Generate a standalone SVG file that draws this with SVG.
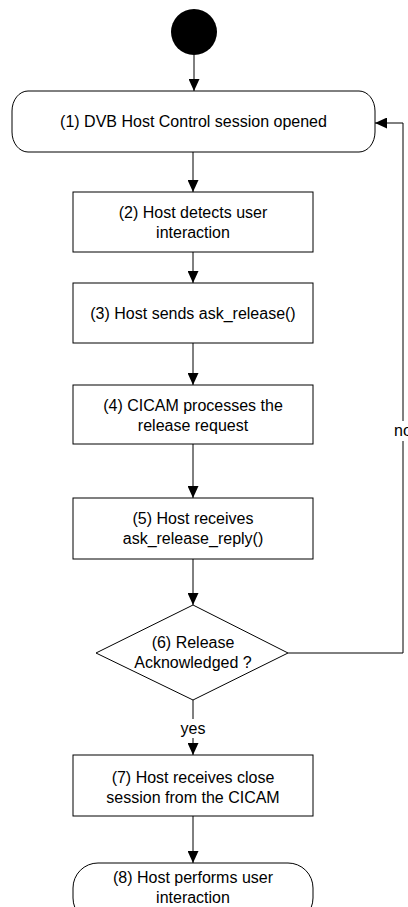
<svg xmlns="http://www.w3.org/2000/svg" width="408" height="907" viewBox="0 0 408 907">
  <style>
    .box { fill: #ffffff; stroke: #000000; stroke-width: 1; }
    .lbl { font-family: "Liberation Sans", Arial, sans-serif; font-size: 16px; fill: #000000; text-anchor: middle; }
    .conn { fill: none; stroke: #000000; stroke-width: 1; }
    .tag { fill: #ffffff; stroke: none; }
  </style>
  <defs>
    <marker id="arr" markerUnits="userSpaceOnUse" markerWidth="12" markerHeight="11" refX="12" refY="5.5" orient="auto">
      <path d="M0,0 L12,5.5 L0,11 z" fill="#000000"/>
    </marker>
  </defs>
  <rect x="0" y="0" width="408" height="907" fill="#ffffff"/>

  <g id="connectors">
    <line class="conn" x1="194" y1="55" x2="194" y2="91" marker-end="url(#arr)"/>
    <line class="conn" x1="193" y1="152" x2="193" y2="192" marker-end="url(#arr)"/>
    <line class="conn" x1="193" y1="252" x2="193" y2="283" marker-end="url(#arr)"/>
    <line class="conn" x1="193" y1="343" x2="193" y2="385" marker-end="url(#arr)"/>
    <line class="conn" x1="193" y1="444" x2="193" y2="498" marker-end="url(#arr)"/>
    <line class="conn" x1="193" y1="559" x2="193" y2="605" marker-end="url(#arr)"/>
    <line class="conn" x1="193" y1="700" x2="193" y2="755" marker-end="url(#arr)"/>
    <line class="conn" x1="193" y1="816" x2="193" y2="863" marker-end="url(#arr)"/>
    <polyline class="conn" points="288,653 403,653 403,123 375,123" marker-end="url(#arr)"/>
    <rect class="tag" x="181" y="719" width="24" height="19"/>
    <text class="lbl" x="193" y="734">yes</text>
    <rect class="tag" x="393" y="421" width="15" height="20"/>
    <text class="lbl" x="403" y="436">no</text>
  </g>

  <g id="start">
    <circle cx="194" cy="32" r="23" fill="#000000"/>
  </g>

  <g id="n1">
    <rect class="box" x="12" y="91" width="363" height="61" rx="16" ry="20"/>
    <text class="lbl" x="193.5" y="127">(1) DVB Host Control session opened</text>
  </g>

  <g id="n2">
    <rect class="box" x="73" y="192" width="240" height="60"/>
    <text class="lbl" x="193" y="218">(2) Host detects user</text>
    <text class="lbl" x="193" y="238">interaction</text>
  </g>

  <g id="n3">
    <rect class="box" x="73" y="283" width="240" height="60"/>
    <text class="lbl" x="193" y="319">(3) Host sends ask_release()</text>
  </g>

  <g id="n4">
    <rect class="box" x="73" y="385" width="240" height="59"/>
    <text class="lbl" x="193" y="411">(4) CICAM processes the</text>
    <text class="lbl" x="193" y="431">release request</text>
  </g>

  <g id="n5">
    <rect class="box" x="73" y="498" width="240" height="61"/>
    <text class="lbl" x="193" y="524">(5) Host receives</text>
    <text class="lbl" x="193" y="544">ask_release_reply()</text>
  </g>

  <g id="n6">
    <polygon class="box" points="193,605 288,653 193,700 96,653"/>
    <text class="lbl" x="193" y="648">(6) Release</text>
    <text class="lbl" x="193" y="668">Acknowledged ?</text>
  </g>

  <g id="n7">
    <rect class="box" x="73" y="755" width="240" height="61"/>
    <text class="lbl" x="193" y="783">(7) Host receives close</text>
    <text class="lbl" x="193" y="803">session from the CICAM</text>
  </g>

  <g id="n8">
    <rect class="box" x="73" y="863" width="240" height="60" rx="25" ry="25"/>
    <text class="lbl" x="193" y="883">(8) Host performs user</text>
    <text class="lbl" x="193" y="903">interaction</text>
  </g>
</svg>
